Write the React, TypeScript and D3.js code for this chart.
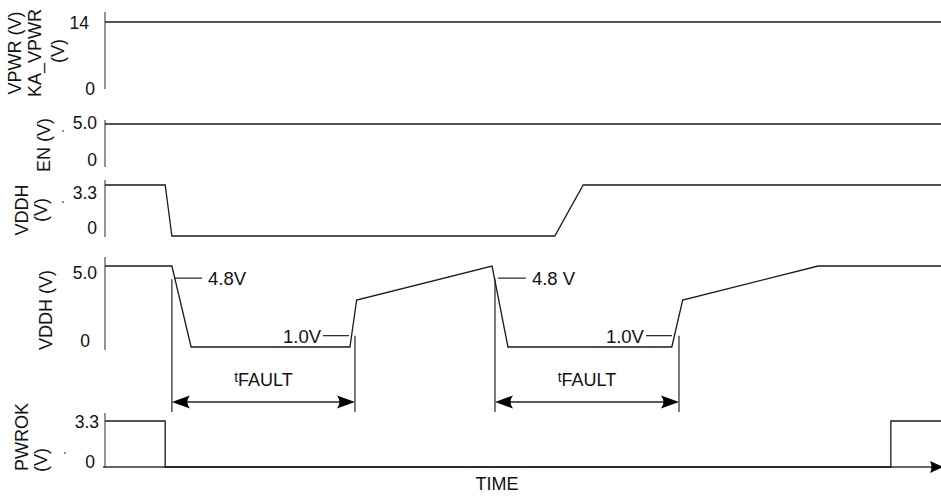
import React from "react";
import * as d3 from "d3";

// ---- data ----
const VPWR_T = [0, 100];
const VPWR_V = [14, 14];
const EN_T = [0, 100];
const EN_V = [5, 5];
const VDDH3_T = [0, 7.2, 8.0, 53.8, 57.2, 100];
const VDDH3_V = [3.3, 3.3, 0, 0, 3.3, 3.3];
const VDDH5_T = [0, 8.0, 10.3, 29.3, 30.1, 46.3, 48.2, 67.8, 69.1, 85.3, 100];
const VDDH5_V = [5, 5, 0, 0, 2.9, 5, 0, 0, 2.9, 5, 5];
const PWROK_T = [0, 7.2, 7.2, 94.0, 94.0, 100];
const PWROK_V = [3.3, 3.3, 0, 0, 3.3, 3.3];

const FAULT_START = [8.0, 46.65];
const FAULT_END = [29.9, 68.66];
const HIGH_LEVEL = 4.25; // drawn level of the 4.8V leader
const LOW_LEVEL = 0.7; // drawn level of the 1.0V leader
const HIGH_LEADER_T0 = [8.25, 47.0];
const LOW_LEADER_T1 = [29.19, 67.82];
const HIGH_TEXT = ["4.8V", "4.8 V"];
const LOW_TEXT = ["1.0V", "1.0V"];

const TICKS = [
  ["0", "14"],
  ["0", "5.0"],
  ["0", "3.3"],
  ["0", "5.0"],
  ["0", "3.3"],
];
const TICK_VALUES = [
  [0, 14],
  [0, 5],
  [0, 3.3],
  [0, 5],
  [0, 3.3],
];

const FONT = "'Liberation Sans', Arial, sans-serif";

export default function App() {
  const x = d3.scaleLinear().domain([0, 100]).range([105, 941]);

  const panels = [
    { max: 14, y0: 88, y1: 22, top: 12, bot: 89, lx: [89, 95] },
    { max: 5, y0: 162, y1: 124, top: 120, bot: 167, lx: [97, 97] },
    { max: 3.3, y0: 236, y1: 185, top: 180, bot: 237, lx: [97, 97] },
    { max: 5, y0: 347, y1: 266, top: 257, bot: 350, lx: [97, 90] },
    { max: 3.3, y0: 467, y1: 421, top: 413, bot: 468, lx: [99, 95] },
  ];
  const ys = panels.map((p) =>
    d3.scaleLinear().domain([0, p.max]).range([p.y0, p.y1])
  );
  // tick label centres (y) [zero, top]
  const tickCenters = [
    [89, 22.5],
    [160, 123],
    [228, 193],
    [341, 273],
    [462, 422],
  ];

  const series = [
    [VPWR_T, VPWR_V],
    [EN_T, EN_V],
    [VDDH3_T, VDDH3_V],
    [VDDH5_T, VDDH5_V],
    [PWROK_T, PWROK_V],
  ];

  const paths = series.map(([ts, vs], i) => {
    const line = d3
      .line<number>()
      .x((d) => x(ts[d]))
      .y((d) => ys[i](vs[d]));
    return line(d3.range(ts.length)) || "";
  });

  const titles: { text: string; x: number; y: number }[] = [
    { text: "VPWR (V)", x: 21, y: 53 },
    { text: "KA_VPWR", x: 41, y: 53 },
    { text: "(V)", x: 64, y: 51 },
    { text: "EN (V)", x: 50, y: 145 },
    { text: "VDDH", x: 28, y: 210 },
    { text: "(V)", x: 47, y: 210 },
    { text: "VDDH (V)", x: 52, y: 310 },
    { text: "PWROK", x: 28, y: 437 },
    { text: "(V)", x: 47, y: 460 },
  ];

  const dots = [
    [63, 131],
    [63, 202],
    [65, 453],
  ];

  const y4 = ys[3];
  const arrowY = 402;
  const markBottom = 412;

  const headL = (px: number) =>
    `M${px},${arrowY} L${px + 18},${arrowY - 6.5} Q${px + 13},${arrowY} ${px + 18},${arrowY + 6.5} Z`;
  const headR = (px: number) =>
    `M${px},${arrowY} L${px - 18},${arrowY - 6.5} Q${px - 13},${arrowY} ${px - 18},${arrowY + 6.5} Z`;

  return (
    <svg
      width={941}
      height={496}
      style={{ position: "absolute", left: 0, top: 0, background: "#fff" }}
      fontFamily={FONT}
    >
      {panels.map((p, i) => (
        <line
          key={"ax" + i}
          x1={105}
          x2={105}
          y1={p.top}
          y2={p.bot}
          stroke="#8a8a8a"
          strokeWidth={1.8}
        />
      ))}
      {TICKS.map((labs, i) =>
        labs.map((t, j) => (
          <text
            key={"t" + i + j}
            x={panels[i].lx[j === 0 ? 1 : 0]}
            y={tickCenters[i][j] + 6.2}
            fontSize={17.5}
            textAnchor="end"
            fill="#111"
            data-value={TICK_VALUES[i][j]}
          >
            {t}
          </text>
        ))
      )}
      {titles.map((t, i) => (
        <text
          key={"ti" + i}
          transform={`translate(${t.x},${t.y}) rotate(-90)`}
          textAnchor="middle"
          fontSize={18}
          fill="#111"
        >
          {t.text}
        </text>
      ))}
      {dots.map((d, i) => (
        <line
          key={"d" + i}
          x1={d[0]}
          x2={d[0]}
          y1={d[1] - 1}
          y2={d[1] + 1}
          stroke="#444"
          strokeWidth={1.2}
        />
      ))}
      <line x1={103} x2={935} y1={467} y2={467} stroke="#333" strokeWidth={1.3} />
      <path d="M943,467 L930,461 Q933,467 930,473 Z" fill="#000" />
      <text x={497} y={490} fontSize={18} textAnchor="middle" fill="#111">
        TIME
      </text>

      {paths.map((d, i) => (
        <path key={"w" + i} d={d} fill="none" stroke="#1a1a1a" strokeWidth={1.3} />
      ))}

      {FAULT_START.map((ts, k) => {
        const xs = x(ts);
        const xe = x(FAULT_END[k]);
        const yh = y4(HIGH_LEVEL);
        const yl = y4(LOW_LEVEL);
        const lh0 = x(HIGH_LEADER_T0[k]);
        const ll1 = x(LOW_LEADER_T1[k]);
        return (
          <g key={"f" + k}>
            <line x1={xs} x2={xs} y1={yh + 1} y2={markBottom} stroke="#222" strokeWidth={1.2} />
            <line x1={xe} x2={xe} y1={yl} y2={markBottom} stroke="#222" strokeWidth={1.2} />
            <line x1={lh0} x2={lh0 + 28} y1={yh} y2={yh} stroke="#222" strokeWidth={1.2} />
            <text x={lh0 + 34} y={yh + 7} fontSize={18.5} fill="#111">
              {HIGH_TEXT[k]}
            </text>
            <line x1={ll1 - 26} x2={ll1} y1={yl} y2={yl} stroke="#222" strokeWidth={1.2} />
            <text x={ll1 - 28} y={yl + 7} fontSize={18.5} textAnchor="end" fill="#111">
              {LOW_TEXT[k]}
            </text>
            <line x1={xs + 12} x2={xe - 12} y1={arrowY} y2={arrowY} stroke="#222" strokeWidth={1.3} />
            <path d={headL(xs)} fill="#000" />
            <path d={headR(xe)} fill="#000" />
            <text x={(xs + xe) / 2} y={386} fontSize={18} textAnchor="middle" fill="#111">
              <tspan fontSize={14} dy={-4}>
                t
              </tspan>
              <tspan dy={4}>FAULT</tspan>
            </text>
          </g>
        );
      })}
    </svg>
  );
}
